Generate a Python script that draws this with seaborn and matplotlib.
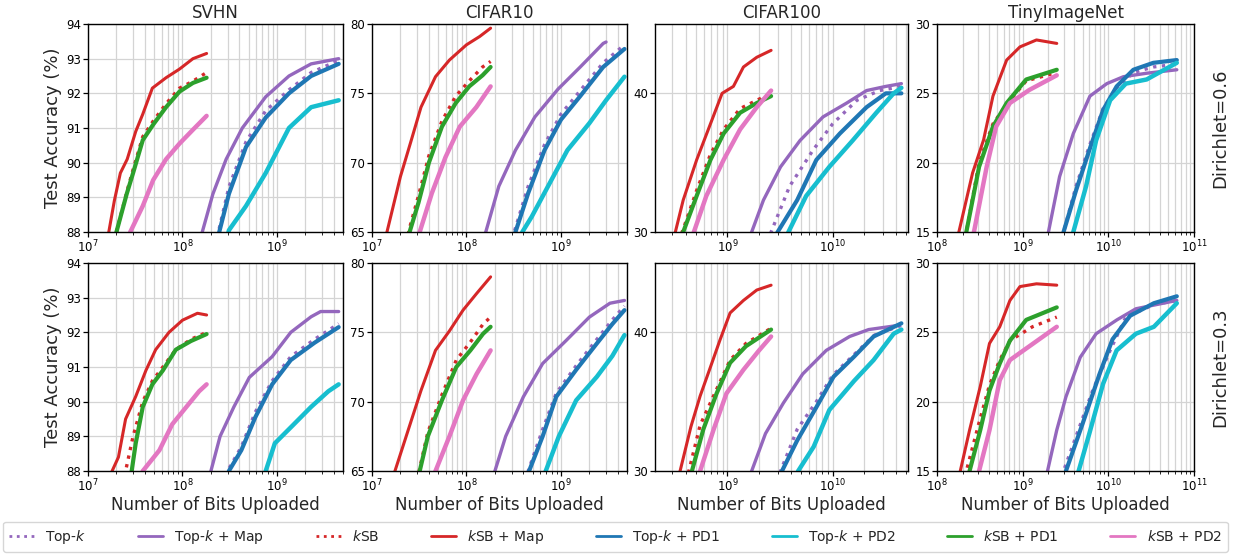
import numpy as np
import pandas as pd
import matplotlib
matplotlib.use("Agg")
import matplotlib.pyplot as plt
from matplotlib.lines import Line2D
import seaborn as sns

# ---------------- data ----------------
series_keys = ["topk", "topk_map", "ksb", "ksb_map", "topk_pd1", "topk_pd2", "ksb_pd1", "ksb_pd2"]
series_labels = ["Top-$k$", "Top-$k$ + Map", "$k$SB", "$k$SB + Map",
                 "Top-$k$ + PD1", "Top-$k$ + PD2", "$k$SB + PD1", "$k$SB + PD2"]
series_colors = ["#9467bd", "#9467bd", "#d62728", "#d62728",
                 "#1f77b4", "#17becf", "#2ca02c", "#e377c2"]
series_styles = [":", "-", ":", "-", "-", "-", "-", "-"]
series_widths = [2.4, 2.4, 2.4, 2.2, 3.0, 3.2, 3.0, 3.2]

datasets = ["SVHN", "CIFAR10", "CIFAR100", "TinyImageNet"]
dirichlet = ["Dirichlet=0.6", "Dirichlet=0.3"]
y_ticks = [[88, 89, 90, 91, 92, 93, 94], [65, 70, 75, 80], [30, 40], [15, 20, 25, 30]]
y_lims = [(88, 94), (65, 80), (30, 45), (15, 30)]
x_lims = [(1e7, 5e9), (1e7, 5e9), (2.05e8, 5.2e10), (1e8, 1e11)]

svhn_06 = {
    "ksb_map": ([1.5e7, 1.66e7, 1.9e7, 2.2e7, 2.6e7, 3.2e7, 3.8e7, 4.8e7, 6.7e7, 9.3e7, 1.29e8, 1.8e8],
                [86.5, 88.0, 88.9, 89.7, 90.1, 90.9, 91.4, 92.15, 92.45, 92.7, 93.0, 93.15]),
    "ksb": ([1.9e7, 2.0e7, 2.6e7, 3.0e7, 3.8e7, 4.9e7, 6.7e7, 9.3e7, 1.29e8, 1.8e8],
            [87.5, 88.0, 89.2, 89.8, 90.75, 91.2, 91.7, 92.15, 92.35, 92.6]),
    "ksb_pd1": ([1.9e7, 2.0e7, 2.57e7, 3.0e7, 3.8e7, 4.9e7, 6.7e7, 9.3e7, 1.29e8, 1.8e8],
                [87.6, 88.0, 89.1, 89.7, 90.65, 91.1, 91.6, 92.05, 92.3, 92.45]),
    "ksb_pd2": ([2.6e7, 2.8e7, 3.8e7, 4.9e7, 6.7e7, 9.3e7, 1.29e8, 1.8e8],
                [87.6, 88.0, 88.75, 89.5, 90.1, 90.55, 90.95, 91.35]),
    "topk_map": ([1.5e8, 1.62e8, 2.1e8, 2.9e8, 4.3e8, 7.6e8, 1.34e9, 2.3e9, 4.5e9],
                 [87.5, 88.0, 89.1, 90.1, 91.0, 91.9, 92.5, 92.85, 93.0]),
    "topk": ([2.2e8, 2.4e8, 3.1e8, 4.7e8, 7.6e8, 1.34e9, 2.3e9, 4.5e9],
             [87.6, 88.0, 89.3, 90.6, 91.5, 92.1, 92.6, 92.95]),
    "topk_pd1": ([2.3e8, 2.45e8, 3.1e8, 4.7e8, 7.6e8, 1.34e9, 2.3e9, 4.5e9],
                 [87.6, 88.0, 89.1, 90.45, 91.3, 92.0, 92.5, 92.85]),
    "topk_pd2": ([2.9e8, 3.1e8, 4.7e8, 7.6e8, 1.34e9, 2.3e9, 4.5e9],
                 [87.7, 88.05, 88.75, 89.7, 91.0, 91.6, 91.8]),
}

cifar10_06 = {
    "ksb_map": ([1.3e7, 1.44e7, 2.0e7, 2.6e7, 3.3e7, 4.7e7, 6.6e7, 1.0e8, 1.38e8, 1.8e8],
                [64.0, 65.0, 69.0, 71.6, 74.0, 76.2, 77.4, 78.5, 79.1, 79.7]),
    "ksb": ([2.3e7, 2.5e7, 3.1e7, 4.0e7, 5.5e7, 7.7e7, 1.07e8, 1.48e8, 1.8e8],
            [64.2, 65.3, 67.6, 70.5, 73.0, 74.8, 75.9, 76.9, 77.3]),
    "ksb_pd1": ([2.3e7, 2.5e7, 3.1e7, 4.0e7, 5.5e7, 7.7e7, 1.07e8, 1.48e8, 1.8e8],
                [64.3, 65.0, 67.1, 70.0, 72.6, 74.3, 75.5, 76.3, 76.9]),
    "ksb_pd2": ([2.9e7, 3.2e7, 4.3e7, 6.0e7, 8.5e7, 1.27e8, 1.8e8],
                [64.3, 65.0, 67.8, 70.4, 72.6, 74.0, 75.5]),
    "topk_map": ([1.5e8, 1.6e8, 2.2e8, 3.3e8, 5.3e8, 9.3e8, 1.6e9, 2.8e9, 3.0e9],
                 [64.5, 65.0, 68.3, 70.9, 73.3, 75.3, 76.9, 78.6, 78.7]),
    "topk": ([3.0e8, 3.2e8, 4.5e8, 6.7e8, 1.0e9, 1.6e9, 2.8e9, 4.7e9],
             [64.5, 65.0, 68.3, 71.3, 73.5, 75.2, 77.2, 78.5]),
    "topk_pd1": ([3.1e8, 3.3e8, 4.5e8, 6.7e8, 1.0e9, 1.6e9, 2.8e9, 4.7e9],
                 [64.5, 65.0, 67.8, 70.9, 73.1, 74.8, 76.9, 78.2]),
    "topk_pd2": ([3.7e8, 3.9e8, 4.9e8, 7.3e8, 1.17e9, 2.0e9, 3.0e9, 4.7e9],
                 [64.5, 65.0, 66.1, 68.3, 70.9, 72.85, 74.5, 76.2]),
}

cifar100_06 = {
    "ksb_map": ([2.9e8, 3.2e8, 3.8e8, 5.1e8, 6.9e8, 8.9e8, 1.14e9, 1.42e9, 1.9e9, 2.6e9],
                [29.3, 30.0, 32.3, 35.2, 37.8, 40.0, 40.5, 41.9, 42.6, 43.1]),
    "ksb": ([3.4e8, 3.8e8, 5.1e8, 6.9e8, 9.2e8, 1.32e9, 1.9e9, 2.6e9],
            [29.3, 30.2, 33.0, 35.6, 37.4, 38.9, 39.5, 40.0]),
    "ksb_pd1": ([3.4e8, 3.8e8, 5.1e8, 6.9e8, 9.2e8, 1.32e9, 1.9e9, 2.6e9],
                [29.3, 30.0, 32.6, 35.2, 37.1, 38.6, 39.3, 39.8]),
    "ksb_pd2": ([4.4e8, 4.8e8, 6.3e8, 9.2e8, 1.32e9, 1.9e9, 2.6e9],
                [29.3, 30.0, 32.6, 35.2, 37.4, 39.0, 40.2]),
    "topk_map": ([1.55e9, 1.7e9, 2.2e9, 3.2e9, 4.9e9, 8.1e9, 1.36e10, 2.1e10, 3.2e10, 4.5e10],
                 [29.3, 30.0, 32.3, 34.7, 36.6, 38.3, 39.3, 40.2, 40.5, 40.7]),
    "topk": ([2.4e9, 2.6e9, 3.9e9, 6.5e9, 1.0e10, 1.7e10, 2.8e10, 4.5e10],
             [29.3, 30.0, 33.3, 35.9, 37.8, 39.5, 40.2, 40.5]),
    "topk_pd1": ([2.7e9, 3.0e9, 4.6e9, 7.0e9, 1.17e10, 2.1e10, 3.2e10, 4.5e10],
                 [29.3, 30.0, 32.3, 35.2, 37.1, 39.0, 40.0, 40.0]),
    "topk_pd2": ([3.5e9, 3.8e9, 5.6e9, 9.3e9, 1.55e10, 2.6e10, 3.8e10, 4.5e10],
                 [29.3, 30.0, 32.6, 34.7, 36.6, 38.6, 40.0, 40.4]),
}

tiny_06 = {
    "ksb_map": ([1.6e8, 1.8e8, 2.6e8, 3.5e8, 4.5e8, 6.5e8, 9.3e8, 1.45e9, 2.5e9],
                [14.0, 15.0, 19.25, 21.65, 24.8, 27.4, 28.35, 28.85, 28.6]),
    "ksb": ([2.0e8, 2.2e8, 3.1e8, 4.5e8, 6.5e8, 1.1e9, 2.5e9],
            [14.0, 15.0, 20.0, 22.8, 24.2, 25.9, 26.5]),
    "ksb_pd1": ([2.0e8, 2.2e8, 3.1e8, 4.5e8, 6.5e8, 1.1e9, 2.5e9],
                [14.0, 15.0, 19.7, 22.6, 24.3, 26.0, 26.7]),
    "ksb_pd2": ([2.4e8, 2.7e8, 3.8e8, 4.9e8, 7.1e8, 1.2e9, 2.5e9],
                [14.0, 15.0, 19.7, 22.6, 24.3, 25.25, 26.3]),
    "topk_map": ([1.8e9, 2.0e9, 2.7e9, 3.9e9, 6.1e9, 9.6e9, 1.5e10, 2.8e10, 6.3e10],
                 [14.0, 15.0, 19.0, 22.1, 24.8, 25.7, 26.2, 26.45, 26.7]),
    "topk": ([2.7e9, 3.0e9, 4.2e9, 6.0e9, 8.7e9, 1.25e10, 1.96e10, 3.35e10, 6.3e10],
             [14.0, 15.0, 18.3, 21.2, 23.9, 25.4, 26.5, 26.9, 27.1]),
    "topk_pd1": ([2.7e9, 3.0e9, 4.2e9, 6.0e9, 8.7e9, 1.25e10, 1.96e10, 3.35e10, 6.3e10],
                 [14.0, 15.0, 18.0, 20.9, 23.8, 25.5, 26.7, 27.2, 27.4]),
    "topk_pd2": ([3.5e9, 3.9e9, 5.5e9, 7.2e9, 1.05e10, 1.6e10, 2.8e10, 6.3e10],
                 [14.0, 15.0, 18.3, 21.6, 24.5, 25.7, 26.0, 27.2]),
}

svhn_03 = {
    "ksb_map": ([1.6e7, 1.8e7, 2.1e7, 2.5e7, 3.2e7, 4.1e7, 5.2e7, 7.2e7, 1.0e8, 1.44e8, 1.8e8],
                [87.5, 88.0, 88.4, 89.5, 90.15, 90.9, 91.5, 92.0, 92.35, 92.55, 92.5]),
    "ksb": ([2.4e7, 2.5e7, 3.0e7, 3.8e7, 4.8e7, 6.2e7, 8.5e7, 1.23e8, 1.8e8],
            [87.6, 88.0, 89.0, 90.0, 90.6, 91.0, 91.5, 91.8, 92.0]),
    "ksb_pd1": ([2.7e7, 2.9e7, 3.2e7, 3.8e7, 4.8e7, 6.2e7, 8.5e7, 1.23e8, 1.8e8],
                [87.6, 88.0, 88.8, 89.85, 90.5, 90.9, 91.5, 91.75, 91.95]),
    "ksb_pd2": ([3.5e7, 3.8e7, 5.7e7, 7.8e7, 1.1e8, 1.5e8, 1.8e8],
                [87.7, 88.0, 88.6, 89.35, 89.85, 90.3, 90.5]),
    "topk_map": ([1.8e8, 2.0e8, 2.5e8, 3.5e8, 5.1e8, 8.9e8, 1.4e9, 2.3e9, 2.9e9, 4.5e9],
                 [87.5, 88.0, 89.0, 89.85, 90.7, 91.3, 92.0, 92.45, 92.6, 92.6]),
    "topk": ([2.8e8, 3.0e8, 4.2e8, 5.9e8, 8.9e8, 1.4e9, 2.5e9, 4.5e9],
             [87.6, 88.0, 88.7, 89.7, 90.6, 91.3, 91.8, 92.25]),
    "topk_pd1": ([2.9e8, 3.1e8, 4.2e8, 5.9e8, 8.9e8, 1.4e9, 2.5e9, 4.5e9],
                 [87.6, 88.0, 88.6, 89.55, 90.5, 91.2, 91.7, 92.15]),
    "topk_pd2": ([7.0e8, 7.6e8, 9.5e8, 1.45e9, 2.3e9, 3.5e9, 4.5e9],
                 [87.6, 88.0, 88.8, 89.3, 89.85, 90.3, 90.5]),
}

cifar10_03 = {
    "ksb_map": ([1.6e7, 1.75e7, 2.3e7, 3.3e7, 4.7e7, 6.6e7, 9.2e7, 1.28e8, 1.8e8],
                [64.3, 65.0, 67.5, 70.8, 73.7, 75.1, 76.6, 77.8, 79.0]),
    "ksb": ([3.0e7, 3.2e7, 3.9e7, 5.5e7, 7.8e7, 1.1e8, 1.5e8, 1.8e8],
            [64.3, 65.2, 67.8, 70.5, 73.0, 74.3, 75.6, 76.1]),
    "ksb_pd1": ([3.0e7, 3.2e7, 3.9e7, 5.5e7, 7.8e7, 1.1e8, 1.5e8, 1.8e8],
                [64.3, 65.0, 67.5, 70.1, 72.5, 73.7, 74.9, 75.4]),
    "ksb_pd2": ([4.3e7, 4.7e7, 6.6e7, 9.2e7, 1.28e8, 1.8e8],
                [64.3, 65.0, 67.5, 70.1, 72.0, 73.7]),
    "topk_map": ([1.8e8, 2.0e8, 2.6e8, 4.0e8, 6.4e8, 1.13e9, 2.0e9, 3.3e9, 4.7e9],
                 [64.3, 65.0, 67.5, 70.35, 72.75, 74.4, 76.1, 77.1, 77.3]),
    "topk": ([4.2e8, 4.5e8, 6.4e8, 8.9e8, 1.45e9, 2.4e9, 3.5e9, 4.7e9],
             [64.3, 65.0, 68.0, 70.6, 72.6, 74.5, 75.9, 76.9]),
    "topk_pd1": ([4.3e8, 4.6e8, 6.4e8, 8.9e8, 1.45e9, 2.4e9, 3.5e9, 4.7e9],
                 [64.3, 65.0, 67.5, 70.35, 72.3, 74.2, 75.6, 76.6]),
    "topk_pd2": ([6.3e8, 6.9e8, 9.5e8, 1.45e9, 2.4e9, 3.5e9, 4.7e9],
                 [64.3, 65.0, 67.5, 70.1, 71.8, 73.3, 74.8]),
}

cifar100_03 = {
    "ksb_map": ([3.2e8, 3.55e8, 4.5e8, 5.5e8, 6.9e8, 8.5e8, 1.06e9, 1.42e9, 1.9e9, 2.6e9],
                [29.3, 30.0, 33.2, 35.4, 37.5, 39.45, 41.4, 42.3, 43.05, 43.4]),
    "ksb": ([3.9e8, 4.3e8, 5.5e8, 7.9e8, 1.06e9, 1.5e9, 2.6e9],
            [29.3, 30.0, 33.3, 35.9, 38.0, 39.2, 40.3]),
    "ksb_pd1": ([4.2e8, 4.6e8, 5.9e8, 7.9e8, 1.06e9, 1.5e9, 2.6e9],
                [29.3, 30.0, 33.0, 35.6, 37.8, 39.0, 40.2]),
    "ksb_pd2": ([5.0e8, 5.5e8, 7.4e8, 9.8e8, 1.42e9, 2.0e9, 2.6e9],
                [29.3, 30.0, 33.0, 35.6, 37.3, 38.7, 39.7]),
    "topk_map": ([1.55e9, 1.7e9, 2.3e9, 3.4e9, 5.2e9, 8.7e9, 1.45e10, 2.2e10, 4.2e10],
                 [29.3, 30.0, 32.7, 34.9, 37.0, 38.7, 39.7, 40.2, 40.5]),
    "topk": ([2.9e9, 3.2e9, 4.6e9, 7.0e9, 1.0e10, 1.6e10, 2.5e10, 4.5e10],
             [29.3, 30.0, 33.0, 35.0, 36.9, 38.4, 39.8, 40.5]),
    "topk_pd1": ([3.0e9, 3.3e9, 4.6e9, 7.0e9, 1.02e10, 1.6e10, 2.45e10, 4.5e10],
                 [29.3, 30.0, 32.2, 34.6, 36.8, 38.25, 39.7, 40.65]),
    "topk_pd2": ([4.3e9, 4.7e9, 6.6e9, 9.3e9, 1.6e10, 2.45e10, 3.8e10, 4.5e10],
                 [29.3, 30.0, 31.75, 34.4, 36.5, 38.0, 39.9, 40.2]),
}

tiny_03 = {
    "ksb_map": ([1.7e8, 1.87e8, 2.4e8, 3.2e8, 4.1e8, 5.4e8, 7.1e8, 9.3e8, 1.45e9, 2.5e9],
                [14.0, 15.0, 17.95, 21.1, 24.2, 25.4, 27.3, 28.3, 28.5, 28.4]),
    "ksb": ([2.0e8, 2.2e8, 3.1e8, 4.1e8, 5.4e8, 7.1e8, 1.3e9, 2.5e9],
            [14.0, 15.0, 18.5, 21.2, 23.0, 24.4, 25.4, 26.1]),
    "ksb_pd1": ([2.2e8, 2.4e8, 3.2e8, 4.1e8, 5.4e8, 7.1e8, 1.1e9, 2.5e9],
                [14.0, 15.0, 17.95, 20.8, 22.75, 24.4, 25.9, 26.8]),
    "ksb_pd2": ([2.8e8, 3.1e8, 4.1e8, 5.4e8, 7.1e8, 1.2e9, 2.5e9],
                [14.0, 15.0, 17.95, 21.55, 23.0, 24.0, 25.4]),
    "topk_map": ([1.8e9, 1.95e9, 2.5e9, 3.2e9, 4.7e9, 7.2e9, 1.26e10, 2.1e10, 6.3e10],
                 [14.0, 15.0, 17.95, 20.35, 23.2, 24.9, 25.9, 26.7, 27.3]),
    "topk": ([2.7e9, 3.0e9, 4.2e9, 6.6e9, 1.05e10, 1.6e10, 3.4e10, 6.3e10],
             [14.0, 15.0, 17.5, 20.85, 23.7, 26.1, 27.0, 27.3]),
    "topk_pd1": ([2.9e9, 3.2e9, 5.0e9, 7.9e9, 1.12e10, 1.8e10, 3.4e10, 6.3e10],
                 [14.0, 15.0, 18.4, 22.0, 24.5, 26.2, 27.1, 27.6]),
    "topk_pd2": ([4.1e9, 4.5e9, 6.0e9, 8.7e9, 1.25e10, 2.1e10, 3.4e10, 6.3e10],
                 [14.0, 15.0, 17.7, 21.3, 23.7, 24.9, 25.4, 27.1]),
}

panels = [[svhn_06, cifar10_06, cifar100_06, tiny_06],
          [svhn_03, cifar10_03, cifar100_03, tiny_03]]

# ---------------- style ----------------
sns.set_theme(style="ticks")
plt.rcParams["font.family"] = ["DejaVu Sans"]
plt.rcParams["mathtext.fontset"] = "dejavusans"

W, H = 1233, 554
fig = plt.figure(figsize=(W / 100, H / 100), dpi=100)

col_px = [(88, 343), (372, 627), (655, 908), (937, 1194)]
row_px = [(24, 232), (263, 471)]

for r in range(2):
    for c in range(4):
        l, rr = col_px[c]
        t, b = row_px[r]
        ax = fig.add_axes([l / W, 1 - b / H, (rr - l) / W, (b - t) / H])
        data = panels[r][c]
        for key, col, ls, lw in zip(series_keys, series_colors, series_styles, series_widths):
            xs, ys = data[key]
            df = pd.DataFrame({"x": xs, "y": ys})
            sns.lineplot(data=df, x="x", y="y", ax=ax, color=col, linestyle=ls,
                         linewidth=lw, sort=False, estimator=None, legend=False)
        ax.set_xscale("log")
        ax.set_xlim(*x_lims[c])
        ax.set_ylim(*y_lims[c])
        ax.set_yticks(y_ticks[c])
        ax.set_axisbelow(True)
        ax.grid(True, which="major", color="#d4d4d4", linewidth=0.9)
        ax.xaxis.grid(True, which="minor", color="#d4d4d4", linewidth=0.9)
        ax.tick_params(axis="both", which="major", labelsize=8.5, length=3.5, width=0.9,
                       colors="black", pad=1.5)
        ax.tick_params(axis="x", which="minor", length=2, width=0.7)
        for sp in ax.spines.values():
            sp.set_color("black")
            sp.set_linewidth(1.0)
        ax.set_xlabel("")
        ax.set_ylabel("")
        if r == 0:
            ax.set_title(datasets[c], fontsize=12, pad=4)
        else:
            ax.set_xlabel("Number of Bits Uploaded", fontsize=12, labelpad=1)
        if c == 0:
            ax.set_ylabel("Test Accuracy (%)", fontsize=13, labelpad=3)
    fig.text(1220 / W, 1 - (row_px[r][0] + row_px[r][1]) / 2 / H, dirichlet[r],
             rotation=90, va="center", ha="center", fontsize=13)

handles = [Line2D([0], [0], color=col, linestyle=ls, linewidth=2.0)
           for col, ls in zip(series_colors, series_styles)]
fig.legend(handles, series_labels, loc="lower left", ncol=8, mode="expand",
           bbox_to_anchor=(3 / W, 2 / H, 1225 / W, 29 / H), fontsize=10,
           handlelength=1.8, handletextpad=0.8, borderaxespad=0.0, frameon=True,
           fancybox=True, edgecolor="#cccccc", borderpad=0.45)

fig.savefig("out.png", dpi=100)
